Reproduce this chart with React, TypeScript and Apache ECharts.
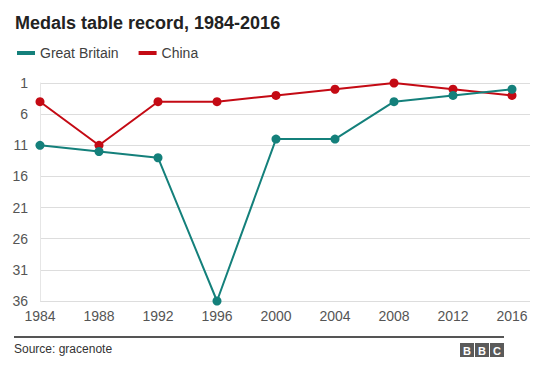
import React, { useEffect, useRef } from "react";
import * as echarts from "echarts";

const years = [1984, 1988, 1992, 1996, 2000, 2004, 2008, 2012, 2016];
const greatBritain = [11, 12, 13, 36, 10, 10, 4, 3, 2];
const china = [4, 11, 4, 4, 3, 2, 1, 2, 3];
const rankTicks = [1, 6, 11, 16, 21, 26, 31, 36];

const TEAL = "#14807b";
const RED = "#c40a14";
const FONT = "'Liberation Sans', Arial, Helvetica, sans-serif";

export default function App() {
  const ref = useRef<HTMLDivElement>(null);
  useEffect(() => {
    document.body.style.margin = "0";
    const chart = echarts.init(ref.current!, null, { renderer: "svg" });
    chart.setOption({
      animation: false,
      backgroundColor: "#ffffff",
      textStyle: { fontFamily: FONT },
      title: {
        text: "Medals table record, 1984-2016",
        left: 10,
        top: 9,
        textStyle: { fontSize: 18, fontWeight: "bold", color: "#222222", fontFamily: FONT },
      },
      legend: {
        left: 12,
        top: 41,
        icon: "rect",
        itemWidth: 18,
        itemHeight: 4,
        itemGap: 20,
        textStyle: { fontSize: 14, color: "#404040", fontFamily: FONT },
        data: ["Great Britain", "China"],
      },
      grid: { left: 40, right: 20, top: 83, bottom: 64 },
      xAxis: {
        type: "value",
        min: 1984,
        max: 2017.22,
        interval: 4,
        axisLine: { show: false },
        axisTick: { show: false },
        splitLine: { show: false },
        axisLabel: {
          fontSize: 14,
          color: "#555555",
          margin: 8,
          fontFamily: FONT,
          formatter: (v: number) => (years.includes(v) ? String(v) : ""),
        },
      },
      yAxis: {
        type: "value",
        inverse: true,
        min: rankTicks[0],
        max: rankTicks[rankTicks.length - 1],
        interval: 5,
        axisLine: { show: true, lineStyle: { color: "#e6e6e6", width: 1 } },
        axisTick: { show: false },
        splitLine: { show: true, lineStyle: { color: "#dddddd", width: 1 } },
        axisLabel: { fontSize: 14, color: "#555555", margin: 12, fontFamily: FONT },
      },
      series: [
        {
          name: "Great Britain",
          type: "line",
          data: years.map((y, i) => [y, greatBritain[i]]),
          color: TEAL,
          lineStyle: { width: 2, color: TEAL },
          symbol: "circle",
          symbolSize: 9,
          itemStyle: { color: TEAL },
          z: 3,
        },
        {
          name: "China",
          type: "line",
          data: years.map((y, i) => [y, china[i]]),
          color: RED,
          lineStyle: { width: 2, color: RED },
          symbol: "circle",
          symbolSize: 9,
          itemStyle: { color: RED },
          z: 2,
        },
      ],
      graphic: [
        {
          type: "line",
          shape: { x1: 14, y1: 337, x2: 504, y2: 337 },
          style: { stroke: "#555555", lineWidth: 2 },
        },
        {
          type: "text",
          x: 14,
          y: 349,
          style: { text: "Source: gracenote", fontSize: 12, fill: "#333333", font: `12px ${FONT}`, verticalAlign: "middle" },
        },
        ...["B", "B", "C"].flatMap((ch, i) => [
          { type: "rect", shape: { x: 460 + i * 15, y: 343, width: 14, height: 14 }, style: { fill: "#5a5a5a" } },
          {
            type: "text",
            x: 467 + i * 15,
            y: 350.5,
            style: { text: ch, fill: "#ffffff", font: `bold 11px ${FONT}`, align: "center", verticalAlign: "middle" },
          },
        ]),
      ],
    });
    return () => chart.dispose();
  }, []);
  return <div ref={ref} style={{ width: 550, height: 365 }} />;
}
